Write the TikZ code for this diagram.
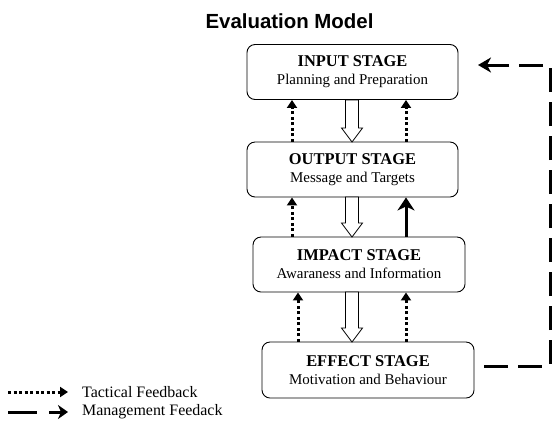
\documentclass[tikz,border=0pt]{standalone}
\usepackage{fontspec}
\setmainfont{Liberation Serif}
\newfontfamily\titlefont{Liberation Sans}
\usetikzlibrary{arrows.meta}
\newcommand\stagehead[1]{{\fontsize{16.5}{18}\selectfont\bfseries #1}}
\begin{document}
\begin{tikzpicture}[x=1bp,y=-1bp,
  stagebox/.style={draw, line width=0.9bp, rounded corners=8bp, align=center,
    minimum height=55bp, inner sep=0pt, font=\fontsize{15}{18}\selectfont},
  hollow/.style={draw, line width=0.8bp, fill=white},
  tactical/.style={line width=3bp, dash pattern=on 3bp off 2.5bp,
    -{Triangle[length=8bp,width=10bp]}},
  mgmt/.style={line width=3bp, -{Stealth[length=13bp,width=17bp,inset=4bp]}},
  mgmtdash/.style={line width=3bp, dash pattern=on 24bp off 10bp,
    -{Stealth[length=13bp,width=15bp,inset=4bp]}},
  legendtext/.style={anchor=west, inner sep=0pt, font=\fontsize{16}{18}\selectfont},
  hollowdown/.pic={
    \draw[hollow] (-6.5,0) -- (6.5,0) -- (6.5,#1-14) -- (10.5,#1-14)
      -- (0,#1) -- (-10.5,#1-14) -- (-6.5,#1-14) -- cycle;
  }]
\useasboundingbox (0,0) rectangle (554,422);

% title
\node (title) at (289.5,21) {\titlefont\bfseries\fontsize{20.5}{22}\selectfont Evaluation Model};

% the four stages
\node[stagebox, minimum width=211bp] (input)  at (352.5,72)
  {\stagehead{INPUT STAGE}\\Planning and Preparation};
\node[stagebox, minimum width=211bp] (output) at (352.5,169.5)
  {\stagehead{OUTPUT STAGE}\\Message and Targets};
\node[stagebox, minimum width=212bp] (impact) at (359,264.5)
  {\stagehead{IMPACT STAGE}\\Awaraness and Information};
\node[stagebox, minimum width=212bp, minimum height=56bp] (effect) at (368,370)
  {\stagehead{EFFECT STAGE}\\Motivation and Behaviour};

% forward flow between stages
\pic at (352,100) {hollowdown=42};
\pic at (352,197) {hollowdown=40};
\pic at (352,292) {hollowdown=50};

% tactical feedback
\draw[tactical] (292,0 |- output.north) -- (292,0 |- input.south);
\draw[tactical] (406,0 |- output.north) -- (406,0 |- input.south);
\draw[tactical] (292,0 |- impact.north) -- (292,0 |- output.south);
\draw[mgmt]     (406,0 |- impact.north) -- (406,0 |- output.south);
\draw[tactical] (298,0 |- effect.north) -- (298,0 |- impact.south);
\draw[tactical] (406,0 |- effect.north) -- (406,0 |- impact.south);

% management feedback loop
\coordinate (loopstart) at (484,366);
\coordinate (loopend) at (478,65);
\draw[mgmtdash] (loopstart) -- (550,366) -- (550,65) -- (loopend);

% legend
\coordinate (tacA) at (8,392);
\coordinate (tacB) at (68,392);
\draw[tactical] (tacA) -- (tacB);
\node[legendtext] (taclabel) at (82,392) {Tactical Feedback};
\coordinate (mgA) at (8,412);
\coordinate (mgB) at (37,412);
\coordinate (mgC) at (49,412);
\coordinate (mgD) at (68,412);
\draw[line width=3bp] (mgA) -- (mgB);
\draw[line width=3bp, -{Stealth[length=10bp,width=14bp,inset=3bp]}] (mgC) -- (mgD);
\node[legendtext] (mglabel) at (82,412) {Management Feedack};
\end{tikzpicture}
\end{document}
